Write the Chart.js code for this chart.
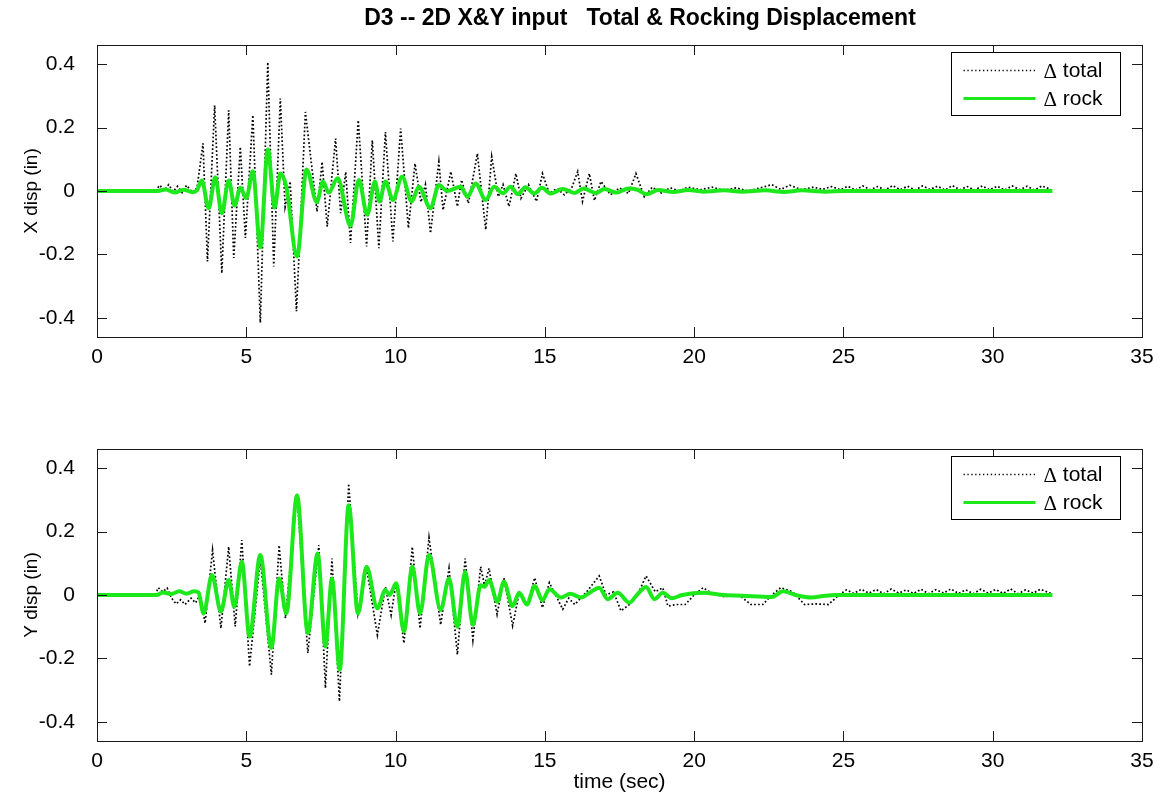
<!DOCTYPE html>
<html>
<head>
<meta charset="utf-8">
<script src="https://cdn.jsdelivr.net/npm/chart.js@4.4.1/dist/chart.umd.min.js"></script>
<style>
  html, body { margin: 0; padding: 0; background: #fff; }
  #wrap { position: relative; width: 1159px; height: 796px; overflow: hidden; }
  canvas { position: absolute; left: 0; }
</style>
</head>
<body>
<div id="wrap">
  <canvas id="c1" width="1159" height="400" style="top:0"></canvas>
  <canvas id="c2" width="1159" height="396" style="top:400px"></canvas>
</div>
<script>
// ---------- DATA ----------
const chartTitle = 'D3 -- 2D X&Y input   Total & Rocking Displacement';
const xTicks = [0, 5, 10, 15, 20, 25, 30, 35];
const yTicks = [-0.4, -0.2, 0, 0.2, 0.4];
const yTickLabels = ['-0.4', '-0.2', '0', '0.2', '0.4'];
const seriesNames = ['total', 'rock'];

// X direction: rocking displacement (green)
const xRockT = [0, 2.0, 2.3, 2.6, 2.9, 3.2, 3.35, 3.51, 3.74, 3.96, 4.18, 4.41, 4.61, 4.80, 5.0, 5.22, 5.47, 5.72, 5.95, 6.14, 6.34, 6.70, 7.02, 7.36, 7.57, 7.76, 8.06, 8.49, 8.77, 9.05, 9.31, 9.46, 9.66, 9.91, 10.22, 10.54, 10.78, 11.17, 11.45, 11.73, 12.18, 12.41, 12.68, 13.02, 13.3, 13.6, 13.85, 14.1, 14.35, 14.65, 14.9, 15.2, 15.6, 16.0, 16.3, 16.7, 17.0, 17.4, 17.8, 18.1, 18.4, 18.8, 19.3, 19.8, 20.3, 21.0, 21.6, 22.4, 23.0, 23.6, 24.4, 25.0, 32.0];
const xRockV = [0, 0, 0.005, -0.005, 0.004, -0.004, 0.002, 0.033, -0.054, 0.043, -0.07, 0.033, -0.046, 0.01, -0.022, 0.062, -0.178, 0.131, -0.052, 0.055, 0.013, -0.206, 0.068, -0.035, 0.03, -0.005, 0.04, -0.11, 0.035, -0.075, 0.03, -0.033, 0.03, -0.028, 0.045, -0.033, 0.013, -0.054, 0.019, 0.0, 0.013, -0.018, 0.024, -0.028, 0.013, -0.007, 0.013, -0.01, 0.012, -0.008, 0.01, -0.008, 0.006, -0.006, 0.008, -0.006, 0.006, -0.005, 0.008, 0.004, -0.01, 0.003, -0.003, 0.003, -0.002, 0.002, -0.002, 0.002, -0.003, 0.002, -0.002, 0, 0];

// X direction: total displacement (black dotted)
const xTotalT = [0, 1.95, 2.1, 2.25, 2.4, 2.55, 2.7, 2.85, 3.0, 3.2, 3.35, 3.55, 3.70, 3.94, 4.18, 4.41, 4.58, 4.80, 4.97, 5.22, 5.47, 5.72, 5.92, 6.14, 6.30, 6.47, 6.68, 6.98, 7.37, 7.54, 7.71, 7.99, 8.16, 8.33, 8.49, 8.75, 9.03, 9.22, 9.44, 9.66, 9.91, 10.17, 10.43, 10.65, 10.85, 11.0, 11.17, 11.45, 11.59, 11.85, 12.07, 12.21, 12.44, 12.74, 13.02, 13.22, 13.44, 13.6, 13.8, 14.03, 14.2, 14.45, 14.72, 14.92, 15.15, 15.4, 15.65, 15.9, 16.1, 16.26, 16.49, 16.66, 16.88, 17.2, 17.5, 17.8, 18.05, 18.33, 18.6, 18.9, 19.2, 19.5, 19.8, 20.2, 20.6, 21.0, 21.4, 21.8, 22.3, 22.6, 22.9, 23.2, 23.6, 24.0, 24.3, 24.6, 24.9, 25.15, 25.4, 25.65, 25.9, 26.15, 26.4, 26.65, 26.9, 27.15, 27.4, 27.65, 27.9, 28.15, 28.4, 28.65, 28.9, 29.15, 29.4, 29.65, 29.9, 30.15, 30.4, 30.65, 30.9, 31.15, 31.4, 31.65, 31.95];
const xTotalV = [0, 0, 0.018, 0.002, 0.02, -0.002, 0.015, -0.005, 0.018, -0.005, 0.01, 0.15, -0.222, 0.27, -0.259, 0.254, -0.211, 0.139, -0.148, 0.239, -0.415, 0.406, -0.238, 0.291, -0.05, 0.03, -0.379, 0.249, -0.065, 0.092, -0.112, 0.165, -0.07, 0.06, -0.164, 0.223, -0.175, 0.16, -0.18, 0.186, -0.159, 0.197, -0.117, 0.087, -0.035, 0.02, -0.133, 0.092, -0.06, 0.061, -0.049, 0.035, -0.039, 0.118, -0.122, 0.108, -0.018, 0.02, -0.049, 0.055, -0.023, 0.02, -0.033, 0.055, -0.008, 0.008, -0.012, 0.01, 0.061, -0.033, 0.055, -0.03, 0.03, -0.012, 0.01, -0.008, 0.055, -0.018, 0.012, -0.006, 0.01, 0.0, 0.012, 0.004, 0.012, 0.002, 0.01, 0.0, 0.012, 0.02, 0.005, 0.018, 0.004, 0.012, 0.005, 0.014, 0.004, 0.015, 0.003, 0.016, 0.004, 0.014, 0.003, 0.017, 0.004, 0.015, 0.003, 0.016, 0.005, 0.015, 0.003, 0.017, 0.004, 0.014, 0.003, 0.016, 0.004, 0.015, 0.003, 0.016, 0.004, 0.015, 0.003, 0.016, 0.005];

// Y direction: rocking displacement (green)
const yRockT = [0, 2.0, 2.2, 2.5, 2.75, 3.0, 3.25, 3.4, 3.57, 3.85, 4.15, 4.41, 4.6, 4.85, 5.11, 5.47, 5.84, 6.1, 6.34, 6.70, 7.06, 7.39, 7.65, 7.87, 8.13, 8.43, 8.74, 9.03, 9.39, 9.66, 9.8, 10.02, 10.28, 10.56, 10.82, 11.12, 11.51, 11.79, 12.07, 12.33, 12.59, 12.85, 12.98, 13.13, 13.41, 13.63, 13.92, 14.14, 14.4, 14.66, 14.92, 15.15, 15.54, 15.85, 16.21, 16.5, 16.82, 17.1, 17.44, 17.83, 18.1, 18.39, 18.67, 18.95, 19.25, 19.6, 20.3, 21.0, 21.6, 22.6, 22.98, 23.4, 23.93, 24.4, 24.8, 32.0];
const yRockV = [0, 0, 0.008, 0.003, 0.012, 0.004, 0.012, 0.008, -0.058, 0.063, -0.052, 0.047, -0.037, 0.105, -0.131, 0.126, -0.167, 0.052, -0.058, 0.314, -0.12, 0.131, -0.162, 0.052, -0.235, 0.283, -0.058, 0.089, -0.042, 0.016, 0.0, 0.037, -0.115, 0.089, -0.058, 0.126, -0.047, 0.052, -0.1, 0.073, -0.094, 0.031, 0.026, 0.047, -0.021, 0.042, -0.035, 0.007, -0.03, 0.028, -0.017, 0.018, -0.008, 0.004, -0.008, 0.007, 0.023, -0.013, 0.007, -0.024, 0.002, 0.025, -0.013, 0.007, -0.01, 0.0, 0.007, 0.0, -0.002, -0.006, 0.012, 0.0, -0.008, -0.002, 0, 0];

// Y direction: total displacement (black dotted)
const yTotalT = [0, 1.95, 2.05, 2.2, 2.35, 2.5, 2.65, 2.8, 2.95, 3.15, 3.3, 3.45, 3.62, 3.87, 4.15, 4.41, 4.63, 4.85, 5.11, 5.47, 5.84, 6.1, 6.31, 6.7, 7.06, 7.43, 7.65, 7.87, 8.12, 8.43, 8.74, 9.03, 9.39, 9.66, 9.85, 10.02, 10.28, 10.56, 10.82, 11.12, 11.51, 11.79, 12.07, 12.33, 12.59, 12.85, 12.98, 13.13, 13.4, 13.63, 13.92, 14.14, 14.4, 14.66, 14.92, 15.15, 15.6, 15.8, 16.0, 16.4, 16.82, 17.05, 17.3, 17.55, 17.83, 18.1, 18.39, 18.7, 18.95, 19.12, 19.4, 19.7, 20.0, 20.3, 20.6, 21.0, 21.5, 21.9, 22.3, 22.6, 22.9, 23.3, 23.7, 24.1, 24.5, 24.85, 25.1, 25.35, 25.6, 25.85, 26.1, 26.35, 26.6, 26.85, 27.1, 27.35, 27.6, 27.85, 28.1, 28.35, 28.6, 28.85, 29.1, 29.35, 29.6, 29.85, 30.1, 30.35, 30.6, 30.85, 31.1, 31.35, 31.6, 31.95];
const yTotalV = [0, 0, 0.023, 0.01, 0.022, -0.01, -0.028, -0.015, -0.03, -0.01, -0.025, 0.0, -0.089, 0.141, -0.105, 0.152, -0.099, 0.173, -0.225, 0.115, -0.251, 0.157, -0.073, 0.319, -0.183, 0.157, -0.293, 0.115, -0.335, 0.351, -0.058, 0.085, -0.126, 0.026, -0.063, 0.042, -0.152, 0.152, -0.105, 0.181, -0.094, 0.084, -0.188, 0.115, -0.141, 0.089, 0.03, 0.084, -0.061, 0.054, -0.097, 0.007, -0.03, 0.054, -0.04, 0.039, -0.045, -0.01, -0.03, 0.01, 0.06, 0.0, 0.01, -0.05, -0.03, 0.0, 0.06, 0.01, 0.023, -0.035, -0.03, -0.03, 0.0, 0.023, 0.005, -0.005, 0.0, -0.03, -0.03, 0.0, 0.023, 0.01, -0.03, -0.028, -0.03, 0.0, 0.016, 0.005, 0.018, 0.006, 0.017, 0.004, 0.019, 0.006, 0.016, 0.005, 0.018, 0.004, 0.017, 0.006, 0.019, 0.005, 0.016, 0.004, 0.018, 0.006, 0.017, 0.005, 0.019, 0.004, 0.016, 0.006, 0.018, 0.005];

// ---------- helpers ----------
const GREEN = 'rgb(28,232,28)';
const FONT = '"Liberation Sans", Arial, Helvetica, sans-serif';
const toPts = (t, v) => t.map((x, i) => ({ x: x, y: v[i] }));

const framePlugin = {
  id: 'matlabFrame',
  afterDraw(chart, args, opts) {
    const { ctx, chartArea: a, scales } = chart;
    const sx = scales.x, sy = scales.y;
    ctx.save();
    ctx.strokeStyle = '#1a1a1a';
    ctx.lineWidth = 1;
    ctx.beginPath();
    const L = 10;
    xTicks.forEach(v => {
      const p = Math.round(sx.getPixelForValue(v)) + 0.5;
      ctx.moveTo(p, a.bottom); ctx.lineTo(p, a.bottom - L);
      ctx.moveTo(p, a.top); ctx.lineTo(p, a.top + L);
    });
    yTicks.forEach(v => {
      const p = Math.round(sy.getPixelForValue(v)) + 0.5;
      ctx.moveTo(a.left, p); ctx.lineTo(a.left + L, p);
      ctx.moveTo(a.right, p); ctx.lineTo(a.right - L, p);
    });
    ctx.stroke();
    ctx.strokeRect(Math.round(a.left) + 0.5, Math.round(a.top) + 0.5,
                   Math.round(a.right - a.left), Math.round(a.bottom - a.top));

    // legend box (top-right inside axes)
    const bw = 169, bh = 63;
    const bx = Math.round(a.right - 191) + 0.5, by = Math.round(a.top + 7) + 0.5;
    ctx.fillStyle = '#fff';
    ctx.fillRect(bx, by, bw, bh);
    ctx.strokeStyle = '#000';
    ctx.strokeRect(bx, by, bw, bh);
    const rows = [by + 18, by + 46];
    const ds = chart.data.datasets;
    const order = [ds.find(d => d.key === 'total'), ds.find(d => d.key === 'rock')];
    order.forEach((d, i) => {
      ctx.save();
      ctx.beginPath();
      ctx.strokeStyle = d.borderColor;
      ctx.lineWidth = d.key === 'rock' ? 3 : 1.3;
      ctx.setLineDash(d.key === 'rock' ? [] : [1.3, 2.6]);
      ctx.moveTo(bx + 12, rows[i]); ctx.lineTo(bx + 84, rows[i]);
      ctx.stroke();
      ctx.restore();
      ctx.fillStyle = '#000';
      ctx.textBaseline = 'middle';
      ctx.textAlign = 'left';
      ctx.font = '21px "Liberation Serif", "DejaVu Serif", serif';
      ctx.fillText('\u0394', bx + 92, rows[i] + 2);
      const dw = ctx.measureText('\u0394').width;
      ctx.font = '21px ' + FONT;
      ctx.fillText(' ' + d.label, bx + 92 + dw, rows[i] + 1);
    });

    if (opts.title) {
      ctx.fillStyle = '#000';
      ctx.font = 'bold 23px ' + FONT;
      ctx.textAlign = 'center';
      ctx.textBaseline = 'alphabetic';
      ctx.fillText(opts.title, 640, 25);
    }
    ctx.restore();
  }
};

function makeChart(id, rockT, rockV, totT, totV, yTitle, xTitle, padTop, xAxisH, title) {
  return new Chart(document.getElementById(id), {
    type: 'line',
    data: {
      datasets: [
        { key: 'rock', label: seriesNames[1], data: toPts(rockT, rockV), borderColor: GREEN,
          borderWidth: 4, pointRadius: 0, cubicInterpolationMode: 'monotone', order: 0 },
        { key: 'total', label: seriesNames[0], data: toPts(totT, totV), borderColor: '#000',
          borderWidth: 1.7, borderDash: [1.7, 2.2], pointRadius: 0, tension: 0, order: 1 }
      ]
    },
    options: {
      responsive: false,
      animation: false,
      devicePixelRatio: 1,
      layout: { padding: { top: padTop, right: 17, left: 0, bottom: 0 } },
      plugins: {
        legend: { display: false },
        tooltip: { enabled: false },
        title: { display: false },
        matlabFrame: { title: title }
      },
      scales: {
        x: {
          type: 'linear', min: 0, max: 35,
          afterBuildTicks: s => { s.ticks = xTicks.map(v => ({ value: v })); },
          afterFit: s => { s.height = xAxisH; },
          grid: { display: false },
          border: { display: false },
          ticks: { color: '#000', padding: 0, maxRotation: 0, font: { family: FONT, size: 21 },
                   callback: v => String(v) },
          title: { display: !!xTitle, text: xTitle || '', color: '#000', padding: { top: 0, bottom: 1 },
                   font: { family: FONT, size: 21 } }
        },
        y: {
          type: 'linear', min: -0.46, max: 0.46,
          afterBuildTicks: s => { s.ticks = yTicks.map(v => ({ value: v })); },
          afterFit: s => { s.width = 97; },
          grid: { display: false },
          border: { display: false },
          ticks: { color: '#000', padding: 14, font: { family: FONT, size: 21 },
                   callback: (v) => { const i = yTicks.findIndex(t => Math.abs(t - v) < 1e-9); return i >= 0 ? yTickLabels[i] : ''; } },
          title: { display: true, text: yTitle, color: '#000', padding: { top: 20, bottom: 0 },
                   font: { family: FONT, size: 19 } }
        }
      }
    },
    plugins: [framePlugin]
  });
}

makeChart('c1', xRockT, xRockV, xTotalT, xTotalV, 'X disp (in)', null, 45, 63, chartTitle);
makeChart('c2', yRockT, yRockV, yTotalT, yTotalV, 'Y disp (in)', 'time (sec)', 49, 55, null);
</script>
</body>
</html>
